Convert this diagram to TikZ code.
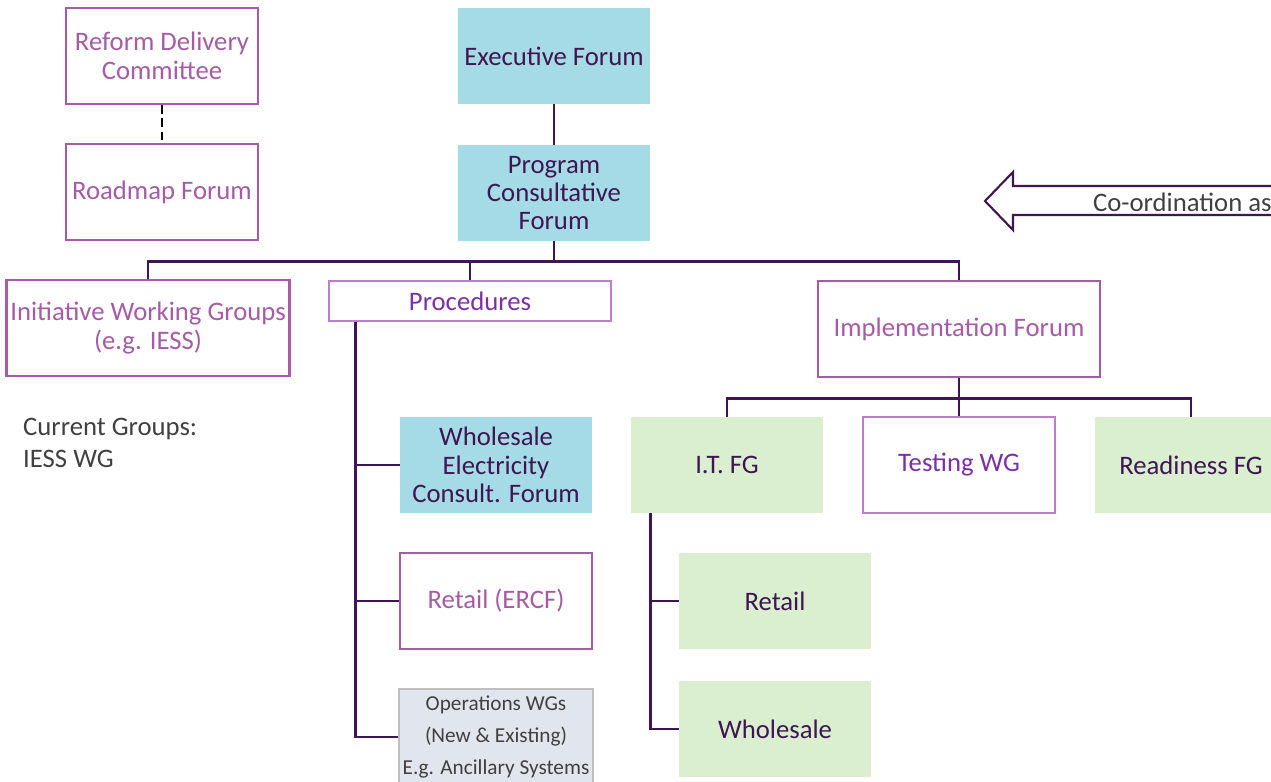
\documentclass[tikz,border=0pt]{standalone}
\usepackage{fontspec}
\setmainfont{Carlito}
\usetikzlibrary{positioning, calc}

\definecolor{linepurple}{HTML}{3F1651}
\definecolor{boxpurple}{HTML}{A65BA6}
\definecolor{procpurple}{HTML}{BD7BD3}
\definecolor{proctext}{HTML}{7D2FA7}
\definecolor{forumblue}{HTML}{A5DBE7}
\definecolor{fggreen}{HTML}{DAEED0}
\definecolor{opsgray}{HTML}{E1E5EE}
\definecolor{opsborder}{HTML}{BFBFBF}
\definecolor{notegray}{HTML}{404040}

\tikzset{
  base/.style={rectangle, align=center, inner sep=2pt,
    minimum width=3.84cm, minimum height=1.92cm,
    font=\fontsize{15.2}{16.2}\selectfont},
  wide/.style={minimum width=5.64cm},
  whitebox/.style={base, draw=boxpurple, line width=1.5pt, text=boxpurple},
  procbox/.style={base, draw=procpurple, line width=1.5pt, text=proctext},
  bluebox/.style={base, fill=forumblue, text=linepurple},
  greenbox/.style={base, fill=fggreen, text=linepurple},
  opsbox/.style={base, fill=opsgray, draw=opsborder, line width=1.5pt,
    text=notegray, font=\fontsize{12.1}{18}\selectfont},
  link/.style={draw=linepurple, line width=1.4pt},
}

\begin{document}
\begin{tikzpicture}[x=0.02cm, y=-0.02cm]
\useasboundingbox (0,0) rectangle (1271,781);
\clip (0,0) rectangle (1271,781);
% top left
\node[whitebox] (rdc) at (162,56) {Reform Delivery\\Committee};
\node[whitebox] (roadmap) at (162,192) {Roadmap Forum};
\draw[dash pattern=on 5pt off 2.5pt, line width=1.3pt] (rdc) -- (roadmap);
% forums
\node[bluebox] (exec) at (554,56) {Executive Forum};
\node[bluebox] (pcf) at (554,193) {Program\\Consultative\\Forum};
\draw[link] (exec) -- (pcf);
% second row
\node[whitebox, wide] (iwg) at (148,328) {Initiative Working Groups\\(e.g. IESS)};
\node[procbox, wide, minimum height=0.8cm] (proc) at (470,301) {Procedures};
\node[whitebox, wide] (impl) at (959,329) {Implementation Forum};
\draw[link] (pcf.south) -- ++(0,20) coordinate (bus);
\draw[link] (iwg.north) |- (bus) -| (impl.north);
\draw[link] (proc.north) |- (bus);
\node[text=notegray, align=left, anchor=north west,
  font=\fontsize{15.2}{18.2}\selectfont] (note) at (17,412) {Current Groups:\\IESS WG};
% procedures
\node[bluebox] (wecf) at (496,465) {Wholesale\\Electricity\\Consult. Forum};
\node[whitebox] (ercf) at (496,601) {Retail (ERCF)};
\node[opsbox] (ops) at (496,737) {Operations WGs\\(New \& Existing)\\E.g. Ancillary Systems};
\coordinate (ptrunk) at ($(proc.south west)+(28,0)$);
\draw[link] (ptrunk) |- (ops.west);
\foreach \n in {wecf,ercf}
  \draw[link] (ptrunk |- \n.west) -- (\n.west);
% implementation
\node[greenbox] (itfg) at (727,465) {I.T. FG};
\node[procbox] (test) at (959,465) {Testing WG};
\node[greenbox] (ready) at (1191,465) {Readiness FG};
\draw[link] (impl.south) -- ++(0,20) coordinate (ibus);
\draw[link] (itfg.north) |- (ibus) -| (ready.north);
\draw[link] (test.north) -- (ibus);
% I.T. groups
\node[greenbox] (retail) at (775,601) {Retail};
\node[greenbox] (whole) at (775,729) {Wholesale};
\coordinate (itrunk) at ($(itfg.south west)+(20,0)$);
\draw[link] (itrunk) |- (whole.west);
\draw[link] (itrunk |- retail.west) -- (retail.west);
% co-ordination arrow
\draw[linepurple, line width=1.2pt, fill=white]
  (1300,186) -- (1013,186) -- (1013,172) -- (985,201)
  -- (1013,230) -- (1013,215) -- (1300,215);
\node[text=notegray, anchor=east, inner sep=0pt,
  font=\fontsize{15.2}{16.2}\selectfont] (coord) at (1272,202) {Co-ordination as};
\end{tikzpicture}
\end{document}
